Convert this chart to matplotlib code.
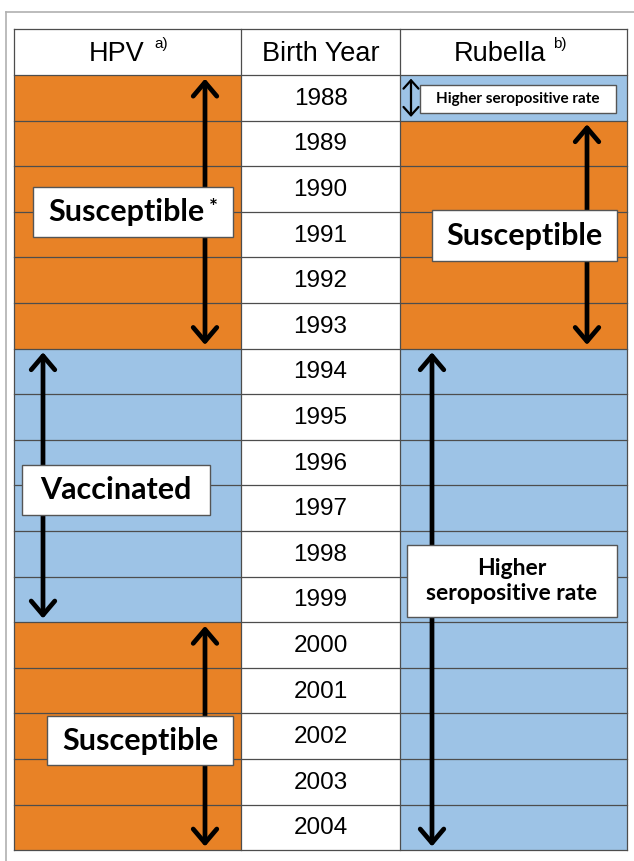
import matplotlib.pyplot as plt
from matplotlib.patches import Rectangle, FancyArrowPatch
from matplotlib.lines import Line2D

years = [1988, 1989, 1990, 1991, 1992, 1993, 1994, 1995, 1996,
         1997, 1998, 1999, 2000, 2001, 2002, 2003, 2004]
headers = ["HPV", "Birth Year", "Rubella"]
header_notes = ["a)", "", "b)"]

# (label, first year, last year, status)
hpv_groups = [("Susceptible", 1988, 1993, "susceptible"),
              ("Vaccinated", 1994, 1999, "seropositive"),
              ("Susceptible", 2000, 2004, "susceptible")]
rubella_groups = [("Higher seropositive rate", 1988, 1988, "seropositive"),
                  ("Susceptible", 1989, 1993, "susceptible"),
                  ("Higher\nseropositive rate", 1994, 2004, "seropositive")]

colors = {"susceptible": "#E88226", "seropositive": "#9DC3E6"}

table_font = ["Liberation Sans", "DejaVu Sans"]
label_font = ["Lato", "DejaVu Sans"]

col_x = [14, 241, 400, 627]
row_px = 45.6
first_px = 75

fig = plt.figure(figsize=(6.34, 8.61), dpi=100)
ax = fig.add_axes([0, 0, 1, 1])
ax.set_xlim(0, 634)
top = years[0] - 0.5 - first_px / row_px
bottom = years[0] - 0.5 + (861 - first_px) / row_px
ax.set_ylim(bottom, top)
ax.axis("off")

header_y = years[0] - 1

# cells
for j, groups in ((0, hpv_groups), (2, rubella_groups)):
    for label, y0, y1, st in groups:
        ys = [y for y in years if y0 <= y <= y1]
        ax.barh(ys, col_x[j + 1] - col_x[j], left=col_x[j], height=1.0,
                color=colors[st], edgecolor="none", zorder=1)
ax.barh(years, col_x[2] - col_x[1], left=col_x[1], height=1.0,
        color="white", edgecolor="none", zorder=1)

# grid
for y in [header_y - 0.5] + [y - 0.5 for y in years] + [years[-1] + 0.5]:
    ax.plot([col_x[0], col_x[-1]], [y, y], color="#4d4d4d", lw=0.9, zorder=2)
for x in col_x:
    ax.plot([x, x], [header_y - 0.5, years[-1] + 0.5], color="#4d4d4d", lw=0.9, zorder=2)

# header
head_off = [-11, 0, -13.5]
note_off = [33.5, 0, 46.5]
for j, h in enumerate(headers):
    cx = (col_x[j] + col_x[j + 1]) / 2
    ax.text(cx + head_off[j], header_y + 0.04, h, ha="center", va="center",
            fontsize=19.5, family=table_font, zorder=5)
    if header_notes[j]:
        ax.text(cx + note_off[j], header_y - 0.17, header_notes[j], ha="center",
                va="center", fontsize=11, family=table_font, zorder=5)

for y in years:
    ax.text((col_x[1] + col_x[2]) / 2, y + 0.02, str(y), ha="center", va="center",
            fontsize=17.5, family=table_font, zorder=5)


def arrow(x, y0, y1, lw=3.4, ms=10, hl=1.0, hw=0.85):
    a = FancyArrowPatch((x, y0 - 0.5 + 0.08), (x, y1 + 0.5 - 0.08),
                        arrowstyle=f"<->,head_length={hl},head_width={hw}",
                        mutation_scale=ms, lw=lw, color="black",
                        shrinkA=0, shrinkB=0, zorder=3)
    ax.add_patch(a)


def box(cx, cy, w, h, text, fs, tx=0):
    ax.add_patch(Rectangle((cx - w / 2, cy - h / 2), w, h, facecolor="white",
                           edgecolor="#555555", lw=1.0, zorder=4))
    ax.text(cx + tx, cy, text, ha="center", va="center", fontsize=fs,
            fontweight="bold", family=label_font, zorder=5, linespacing=1.25)


# HPV arrows and boxes
arrow(205, 1988, 1993)
box(133, 1990.5, 200, 1.1, "Susceptible", 22, tx=-7)
ax.text(213, 1990.42, "*", ha="center", va="center", fontsize=15,
        fontweight="bold", family=label_font, zorder=6)
arrow(43, 1994, 1999)
box(116, 1996.6, 188, 1.1, "Vaccinated", 22)
arrow(205, 2000, 2004)
box(140, 2002.1, 186, 1.08, "Susceptible", 22)

# Rubella arrows and boxes
arrow(411, 1988, 1988, lw=1.6, ms=6, hl=1.0, hw=0.9)
box(518, 1988.03, 196, 0.62, "Higher seropositive rate", 11)
arrow(587, 1989, 1993)
box(524, 1991.02, 185, 1.1, "Susceptible", 22)
arrow(432, 1994, 2004)
box(512, 1998.6, 210, 1.58, "Higher\nseropositive rate", 16.5)

# outer frame
fig.add_artist(Line2D([6 / 634, 6 / 634], [1 - 12 / 861, 0], transform=fig.transFigure,
                      color="#b0b0b0", lw=1.2))
fig.add_artist(Line2D([6 / 634, 1], [1 - 12 / 861, 1 - 12 / 861], transform=fig.transFigure,
                      color="#b0b0b0", lw=1.2))

fig.savefig("out.png", dpi=100, facecolor="white")
